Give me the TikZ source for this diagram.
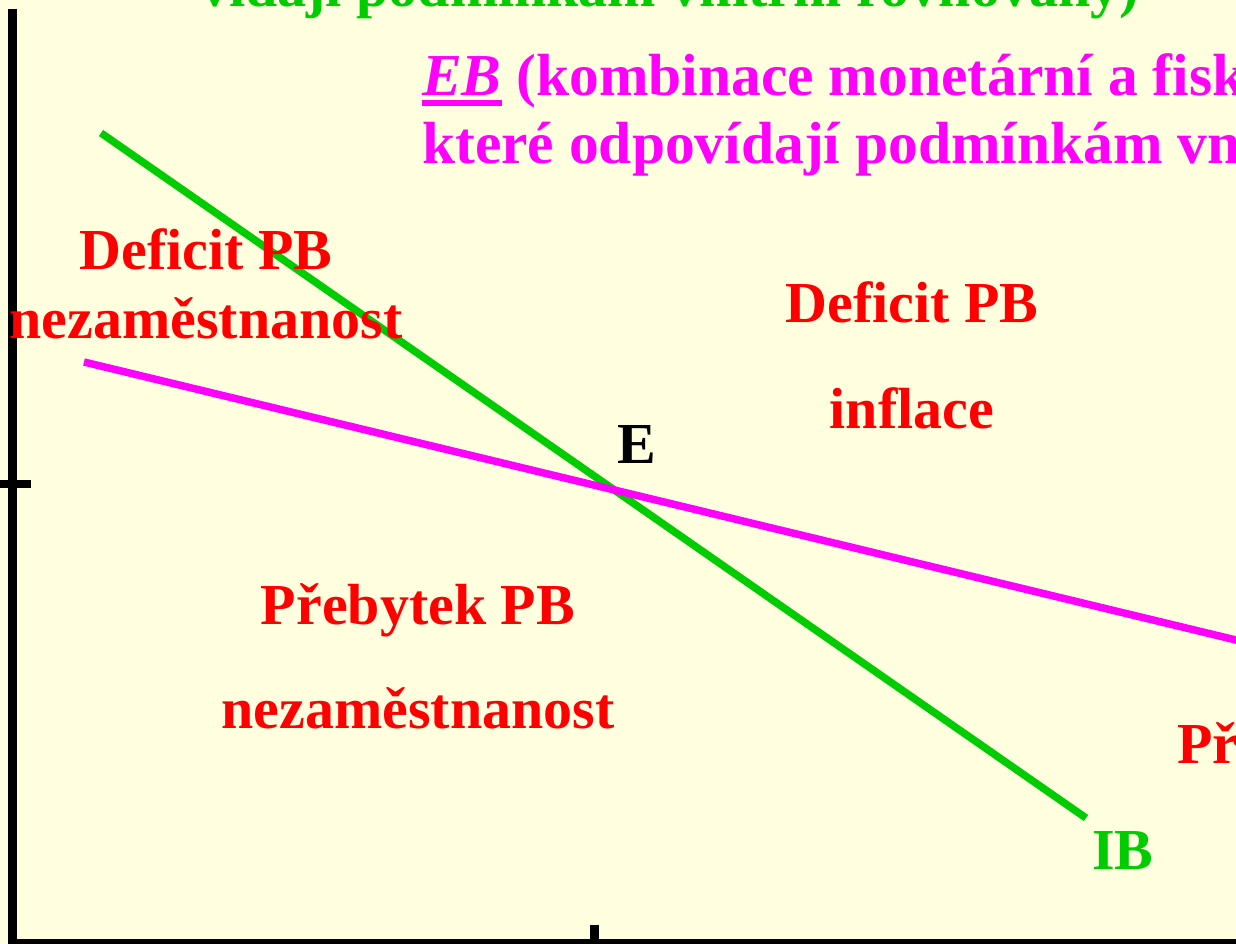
\documentclass[tikz,border=0pt]{standalone}
\usepackage{fontspec}
\setmainfont{Liberation Serif}
\definecolor{bgyellow}{RGB}{255,255,224}
\definecolor{ibgreen}{RGB}{0,204,0}
\definecolor{ebmagenta}{RGB}{255,0,255}
\definecolor{lblred}{RGB}{255,0,0}
\newcommand\ulword[1]{\setbox0\hbox{#1}\rlap{\rule[-11pt]{\wd0}{6pt}}\box0\relax}
\tikzset{
  axisline/.style={line width=9pt, black},
  curveIB/.style={line width=7.5pt, ibgreen},
  curveEB/.style={line width=7.5pt, ebmagenta},
  lbl/.style={inner sep=0pt, font=\fontsize{58}{69}\selectfont\bfseries},
  eblbl/.style={inner sep=0pt, text=ebmagenta, anchor=base west, font=\fontsize{59.5}{69}\selectfont\bfseries},
  redlbl/.style={lbl, text=lblred, anchor=base},
}
\begin{document}
\begin{tikzpicture}[x=1pt,y=-1pt]
\useasboundingbox (0,0) rectangle (1236,943);
\clip (0,0) rectangle (1236,943);
\fill[bgyellow] (0,0) rectangle (1236,943);
% axes
\coordinate (yTop) at (12.5,9);
\coordinate (origin) at (12.5,943);
\coordinate (xEnd) at (1250,943);
\draw[axisline] (yTop) -- (origin) -- (xEnd);
\coordinate (yt1) at (0,484);
\coordinate (yt2) at (31,484);
\draw[line width=8pt, black] (yt1) -- (yt2);
\coordinate (xt1) at (594.5,925);
\coordinate (xt2) at (594.5,950);
\draw[line width=9pt, black] (xt1) -- (xt2);
% curves
\coordinate (ibA) at (101,133);
\coordinate (ibB) at (1086,818);
\draw[curveIB] (ibA) -- (ibB);
\coordinate (ebA) at (84,362);
\coordinate (ebB) at (1260,645.8);
\draw[curveEB] (ebA) -- (ebB);
% top texts
\node[lbl, text=ibgreen, anchor=base west] (ibtext) at (200,6) {vídají podmínkám vnitřní rovnováhy)};
\node[eblbl] (ebtext1) at (422,95) {\ulword{\itshape EB} (kombinace monetární a fiskální};
\node[eblbl] (ebtext2) at (422,163) {které odpovídají podmínkám vnější};
% region labels
\node[redlbl] (r1a) at (206,269) {Deficit PB};
\node[redlbl] (r1b) at (206,338) {nezaměstnanost};
\node[redlbl] (r2a) at (912,322) {Deficit PB};
\node[redlbl] (r2b) at (912,428) {inflace};
\node[redlbl] (r3a) at (418,624) {Přebytek PB};
\node[redlbl] (r3b) at (418,728) {nezaměstnanost};
\node[lbl, text=lblred, anchor=base west] (r4a) at (1177,763) {Přebytek PB};
% point and curve labels
\node[lbl, text=black, anchor=base west] (E) at (617,463) {E};
\node[lbl, text=ibgreen, anchor=base west] (IB) at (1092,869) {IB};
\end{tikzpicture}
\end{document}
